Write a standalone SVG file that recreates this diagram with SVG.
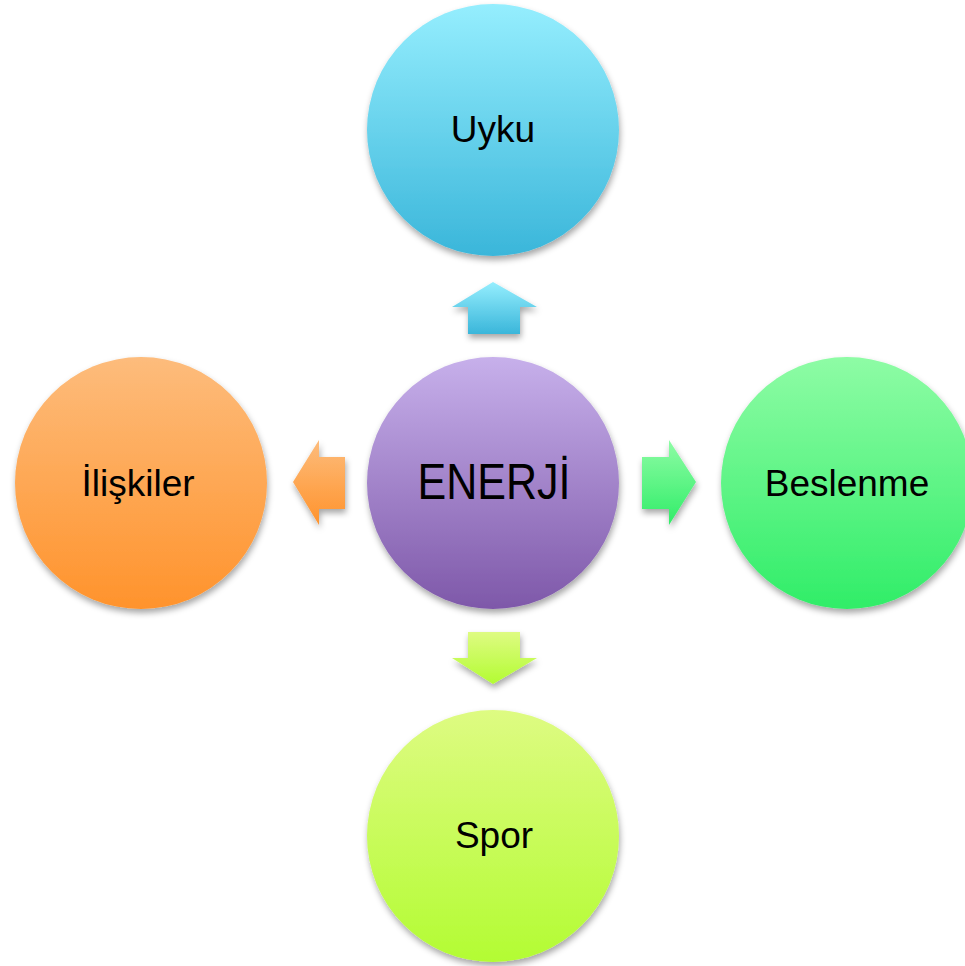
<svg xmlns="http://www.w3.org/2000/svg" width="965" height="966" viewBox="0 0 965 966">
<style>
.lbl{font-family:"Liberation Sans",Arial,sans-serif;font-size:37px;fill:#000;text-anchor:middle}
.big{font-size:50px}
</style>
<defs>
<filter id="sh" x="-20%" y="-20%" width="140%" height="140%">
<feDropShadow dx="1" dy="4" stdDeviation="3" flood-color="#000" flood-opacity="0.35"/>
</filter>
<linearGradient id="gBlue" x1="0" y1="0" x2="0" y2="1"><stop offset="0" stop-color="#95EEFE"/><stop offset="1" stop-color="#3AB6DA"/></linearGradient>
<linearGradient id="gPurple" x1="0" y1="0" x2="0" y2="1"><stop offset="0" stop-color="#C7B0EB"/><stop offset="1" stop-color="#7E58A9"/></linearGradient>
<linearGradient id="gGreen" x1="0" y1="0" x2="0" y2="1"><stop offset="0" stop-color="#8EFCA5"/><stop offset="1" stop-color="#30ED68"/></linearGradient>
<linearGradient id="gOrange" x1="0" y1="0" x2="0" y2="1"><stop offset="0" stop-color="#FDBC7C"/><stop offset="1" stop-color="#FF932C"/></linearGradient>
<linearGradient id="gLime" x1="0" y1="0" x2="0" y2="1"><stop offset="0" stop-color="#DEFB82"/><stop offset="1" stop-color="#B3FC33"/></linearGradient>
</defs>
<g id="connectors" filter="url(#sh)">
<polygon points="493,282 537,307 520,307 520,334 468,334 468,307 452,307" fill="url(#gBlue)"/>
<polygon points="293,482 319,440 319,457 345,457 345,509 319,509 319,525" fill="url(#gOrange)"/>
<polygon points="696,482 669,440 669,457 642,457 642,509 669,509 669,525" fill="url(#gGreen)"/>
<polygon points="493,684 537,658 520,658 520,632 468,632 468,658 452,658" fill="url(#gLime)"/>
</g>
<g id="uyku">
<circle cx="493" cy="130" r="126" fill="url(#gBlue)" filter="url(#sh)"/>
<text class="lbl" x="493" y="142">Uyku</text>
</g>
<g id="enerji">
<circle cx="493" cy="483" r="126" fill="url(#gPurple)" filter="url(#sh)"/>
<text class="lbl big" x="494" y="499" textLength="153" lengthAdjust="spacingAndGlyphs">ENERJİ</text>
</g>
<g id="beslenme">
<circle cx="847" cy="483" r="126" fill="url(#gGreen)" filter="url(#sh)"/>
<text class="lbl" x="847" y="496">Beslenme</text>
</g>
<g id="iliskiler">
<circle cx="141" cy="483" r="126" fill="url(#gOrange)" filter="url(#sh)"/>
<text class="lbl" x="138" y="496">İlişkiler</text>
</g>
<g id="spor">
<circle cx="493" cy="836" r="126" fill="url(#gLime)" filter="url(#sh)"/>
<text class="lbl" x="494" y="848">Spor</text>
</g>
</svg>
